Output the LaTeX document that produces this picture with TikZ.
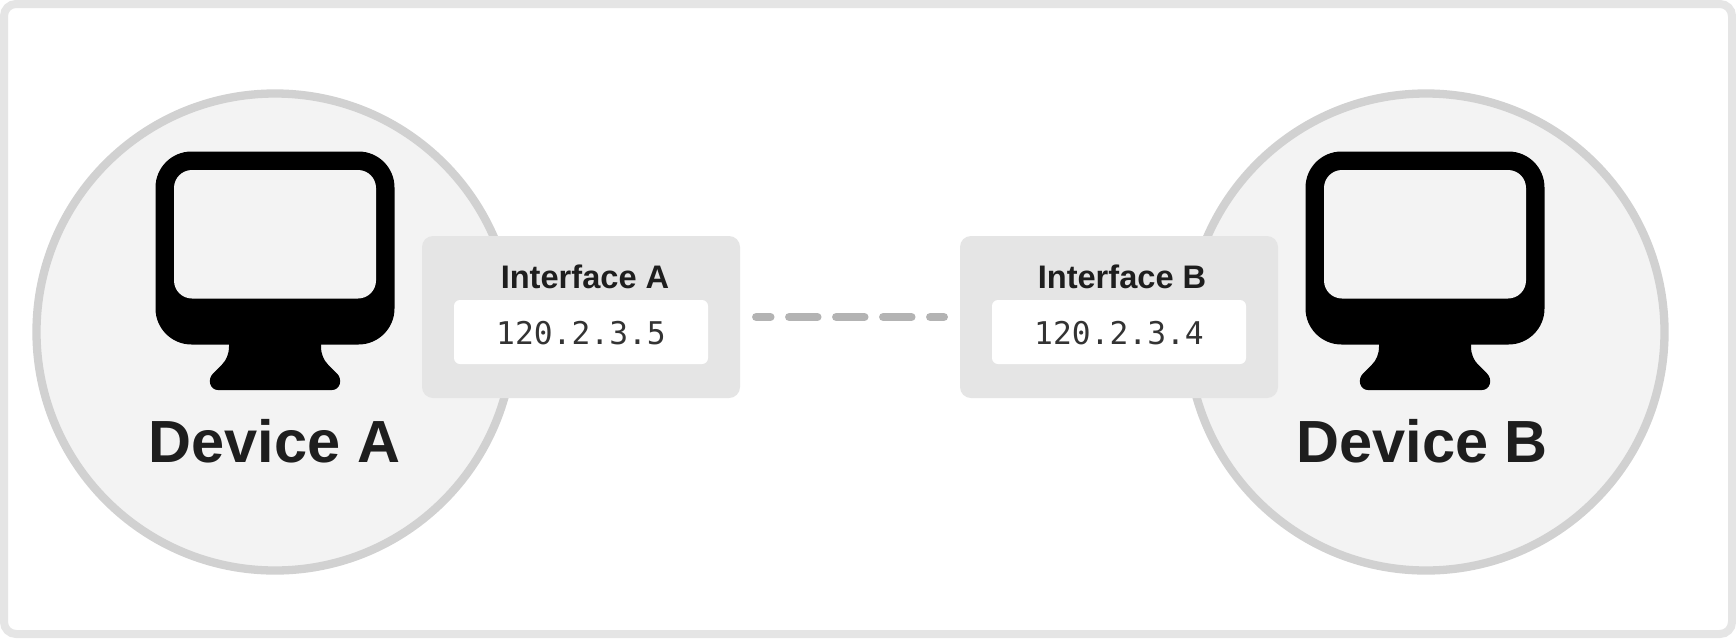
\documentclass[tikz,border=0pt]{standalone}
\usepackage{fontspec}
\setmainfont{Liberation Sans}
\setmonofont{DejaVu Sans Mono}
\usepackage{xcolor}
\usepackage{tikz}
\usetikzlibrary{positioning}
\definecolor{framegray}{HTML}{E5E5E5}
\definecolor{ringgray}{HTML}{D1D1D1}
\definecolor{discgray}{HTML}{F3F3F3}
\definecolor{linkgray}{HTML}{B3B3B3}
\definecolor{inkgray}{HTML}{1E1E1E}
\definecolor{addrgray}{HTML}{333333}
\tikzset{
	device/.style={circle, draw=ringgray, fill=discgray, line width=8.3pt, minimum size=477pt, inner sep=0pt},
	devicename/.style={anchor=base, inner sep=0pt, text=inkgray, font=\fontsize{59.5}{59.5}\selectfont\bfseries},
	iface/.style={rectangle, fill=framegray, rounded corners=11pt, minimum width=318pt, minimum height=162pt, inner sep=0pt},
	ifacename/.style={anchor=base, inner sep=0pt, text=inkgray, font=\fontsize{32.6}{32.6}\selectfont\bfseries},
	addrbox/.style={rectangle, fill=white, rounded corners=6pt, minimum width=254pt, minimum height=64pt, inner sep=0pt},
	addrtext/.style={anchor=base, inner sep=0pt, text=addrgray, font=\fontsize{31.3}{31.3}\selectfont\ttfamily},
	link/.style={draw=linkgray, line width=8.3pt, line cap=round, dash pattern=on 28.2pt off 18.8pt, dash phase=14pt, shorten <=16pt, shorten >=16pt}
}

\begin{document}
\begin{tikzpicture}[x=1pt, y=-1pt]
	\useasboundingbox (0,0) rectangle (1736,638);
	\fill[white] (0,0) rectangle (1736,638);
	\draw[framegray, line width=8pt, rounded corners=12pt] (4,4) rectangle (1732,634);
	
	% device A
	\pgfmathsetmacro{\devx}{275}
	\node[device] (deviceA) at (\devx,332) {};
	\fill[black, rounded corners=36pt] (\devx-119.5,151.5) rectangle (\devx+119.5,344.5);
	\fill[black] (\devx-46,340) -- (\devx-46,346.5) .. controls (\devx-46,354.5) and (\devx-49,360.5) .. (\devx-53,364.5) -- (\devx-62,373.5) .. controls (\devx-68,379.5) and (\devx-65,390) .. (\devx-57,390) -- (\devx+57,390) .. controls (\devx+65,390) and (\devx+68,379.5) .. (\devx+62,373.5) -- (\devx+53,364.5) .. controls (\devx+49,360.5) and (\devx+46,354.5) .. (\devx+46,346.5) -- (\devx+46,340) -- cycle;
	\fill[discgray, rounded corners=18pt] (\devx-101,170) rectangle (\devx+101,298.5);
	\node[devicename] (nameA) at (\devx-0.5,462) {Device A};
	
	% device B
	\pgfmathsetmacro{\devx}{1425}
	\node[device] (deviceB) at (\devx+1,332) {};
	\fill[black, rounded corners=36pt] (\devx-119.5,151.5) rectangle (\devx+119.5,344.5);
	\fill[black] (\devx-46,340) -- (\devx-46,346.5) .. controls (\devx-46,354.5) and (\devx-49,360.5) .. (\devx-53,364.5) -- (\devx-62,373.5) .. controls (\devx-68,379.5) and (\devx-65,390) .. (\devx-57,390) -- (\devx+57,390) .. controls (\devx+65,390) and (\devx+68,379.5) .. (\devx+62,373.5) -- (\devx+53,364.5) .. controls (\devx+49,360.5) and (\devx+46,354.5) .. (\devx+46,346.5) -- (\devx+46,340) -- cycle;
	\fill[discgray, rounded corners=18pt] (\devx-101,170) rectangle (\devx+101,298.5);
	\node[devicename] (nameB) at (\devx-3,462) {Device B};
	
	% interfaces
	\node[iface] (ifaceA) at (581,317) {};
	\node[addrbox] (addrboxA) at (581,332) {};
	\node[ifacename] (ifacenameA) at (585,288) {Interface A};
	\node[addrtext] (addrA) at (581,344) {120.2.3.5};
	
	\node[iface] (ifaceB) at (1119,317) {};
	\node[addrbox] (addrboxB) at (1119,332) {};
	\node[ifacename] (ifacenameB) at (1122,288) {Interface B};
	\node[addrtext] (addrB) at (1119,344) {120.2.3.4};
	
	\draw[link] (ifaceA) -- (ifaceB);
\end{tikzpicture}
\end{document}
